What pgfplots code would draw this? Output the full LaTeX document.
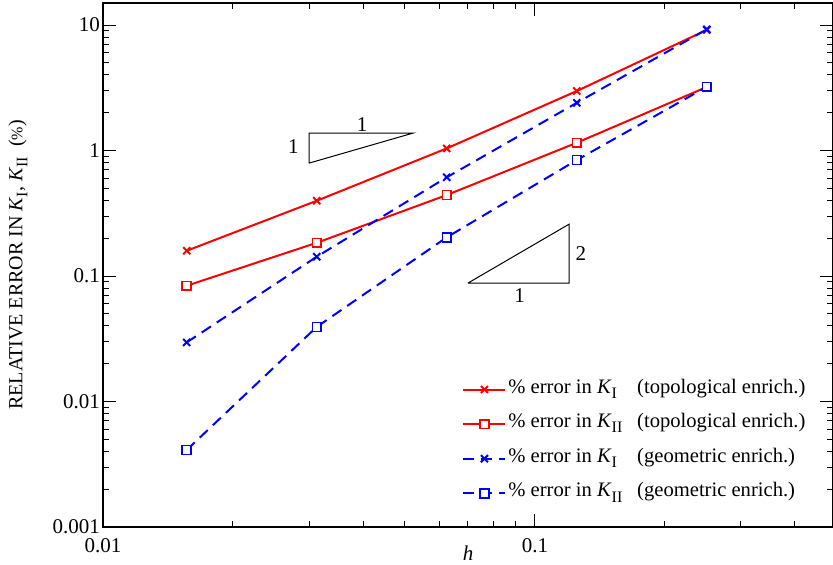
\documentclass[border=0pt]{standalone}
\usepackage{fontspec}
\setmainfont{Liberation Serif}
\usepackage{pgfplots}
\pgfplotsset{compat=1.18}
\definecolor{myred}{RGB}{255,0,0}
\definecolor{myblue}{RGB}{0,0,255}
\newcommand{\Ksub}[1]{\textit{K}\raisebox{-0.55ex}{\footnotesize #1}}
\newcommand{\Kbox}[1]{\makebox[17.5pt][l]{\Ksub{#1}}}
\begin{document}
\begin{tikzpicture}
\begin{axis}[
  at={(0,0)}, anchor=south west,
  scale only axis, width=365pt, height=262pt,
  xmode=log, ymode=log,
  xmin=0.01, xmax=0.49, ymin=0.001, ymax=15,
  xtick={0.01,0.1}, xticklabels={0.01,0.1},
  minor xtick={0.02,0.03,0.04,0.05,0.06,0.07,0.08,0.09,0.2,0.3,0.4},
  ytick={0.001,0.01,0.1,1,10}, yticklabels={0.001,0.01,0.1,1,10},
  minor ytick={0.002,0.003,0.004,0.005,0.006,0.007,0.008,0.009,0.02,0.03,0.04,0.05,0.06,0.07,0.08,0.09,0.2,0.3,0.4,0.5,0.6,0.7,0.8,0.9,2,3,4,5,6,7,8,9},
  tick align=inside,
  major tick length=6.5pt, minor tick length=3pt,
  every tick/.style={black, line width=0.5pt},
  axis line style={line width=0.75pt},
  tick label style={font=\fontsize{10.5}{12}\selectfont},
  xticklabel style={yshift=-2pt},
  yticklabel style={xshift=2pt},
  xlabel={\textit{h}},
  ylabel={RELATIVE ERROR IN \Ksub{I}, \Ksub{II} \ ({\footnotesize\%})},
  every axis x label/.style={at={(axis description cs:0.5,0)}, anchor=center, yshift=-13pt, font=\fontsize{10.5}{12}\selectfont},
  every axis y label/.style={at={(axis description cs:-0.1164,0.5)}, anchor=center, rotate=90, font=\fontsize{10}{12}\selectfont},
  legend style={draw=none, fill=none, at={(axis description cs:0.4918,0.287)}, anchor=north west,
    font=\fontsize{10.3}{11}\selectfont, inner sep=0pt, row sep=4.8pt,
    nodes={inner sep=1pt, text height=7pt, text depth=3.5pt}},
  legend cell align=left,
  legend image code/.code={\draw[#1, mark repeat=2, mark phase=2] plot coordinates {(0pt,0pt) (10.5pt,0pt) (21pt,0pt)};},
]
\addplot[myred, line width=1pt, mark=x, mark size=2.5pt, mark options={solid, line width=1pt}]
  coordinates {(0.015625,0.159) (0.03125,0.398) (0.0625,1.04) (0.125,2.98) (0.25,9.15)};
\addlegendentry{\% error in \Kbox{I} (topological enrich.)}
\addplot[myred, line width=1pt, mark=square*, mark size=2.2pt, mark options={solid, fill=white, line width=0.8pt}]
  coordinates {(0.015625,0.0837) (0.03125,0.184) (0.0625,0.442) (0.125,1.154) (0.25,3.21)};
\addlegendentry{\% error in \Kbox{II} (topological enrich.)}
\addplot[myblue, line width=1pt, dash pattern=on 5.5pt off 3.5pt, mark=x, mark size=2.5pt, mark options={solid, line width=1pt}]
  coordinates {(0.015625,0.0296) (0.03125,0.1425) (0.0625,0.612) (0.125,2.40) (0.25,9.24)};
\addlegendentry{\% error in \Kbox{I} (geometric enrich.)}
\addplot[myblue, line width=1pt, dash pattern=on 5.5pt off 3.5pt, mark=square*, mark size=2.2pt, mark options={solid, fill=white, line width=0.8pt}]
  coordinates {(0.015625,0.00411) (0.03125,0.0393) (0.0625,0.2034) (0.125,0.840) (0.25,3.22)};
\addlegendentry{\% error in \Kbox{II} (geometric enrich.)}
% slope triangles
\addplot[black, line width=0.5pt, no marks, forget plot]
  coordinates {(0.0300,0.794) (0.0300,1.377) (0.0522,1.377) (0.0300,0.794)};
\addplot[black, line width=0.5pt, no marks, forget plot]
  coordinates {(0.0700,0.0879) (0.120,0.0879) (0.120,0.259) (0.0700,0.0879)};
\node[anchor=south, inner sep=0.5pt, font=\fontsize{10.5}{12}\selectfont] at (axis cs:0.0398,1.377) {1};
\node[anchor=east, inner sep=0pt, xshift=-5pt, font=\fontsize{10.5}{12}\selectfont] at (axis cs:0.0300,1.067) {1};
\node[anchor=west, inner sep=0pt, xshift=3pt, font=\fontsize{10.5}{12}\selectfont] at (axis cs:0.120,0.152) {2};
\node[anchor=north, inner sep=0pt, yshift=-2.5pt, font=\fontsize{10.5}{12}\selectfont] at (axis cs:0.0922,0.0879) {1};
\end{axis}
\pgfresetboundingbox
\useasboundingbox (-51.5pt,-19pt) rectangle (365pt,263.5pt);
\end{tikzpicture}
\end{document}
